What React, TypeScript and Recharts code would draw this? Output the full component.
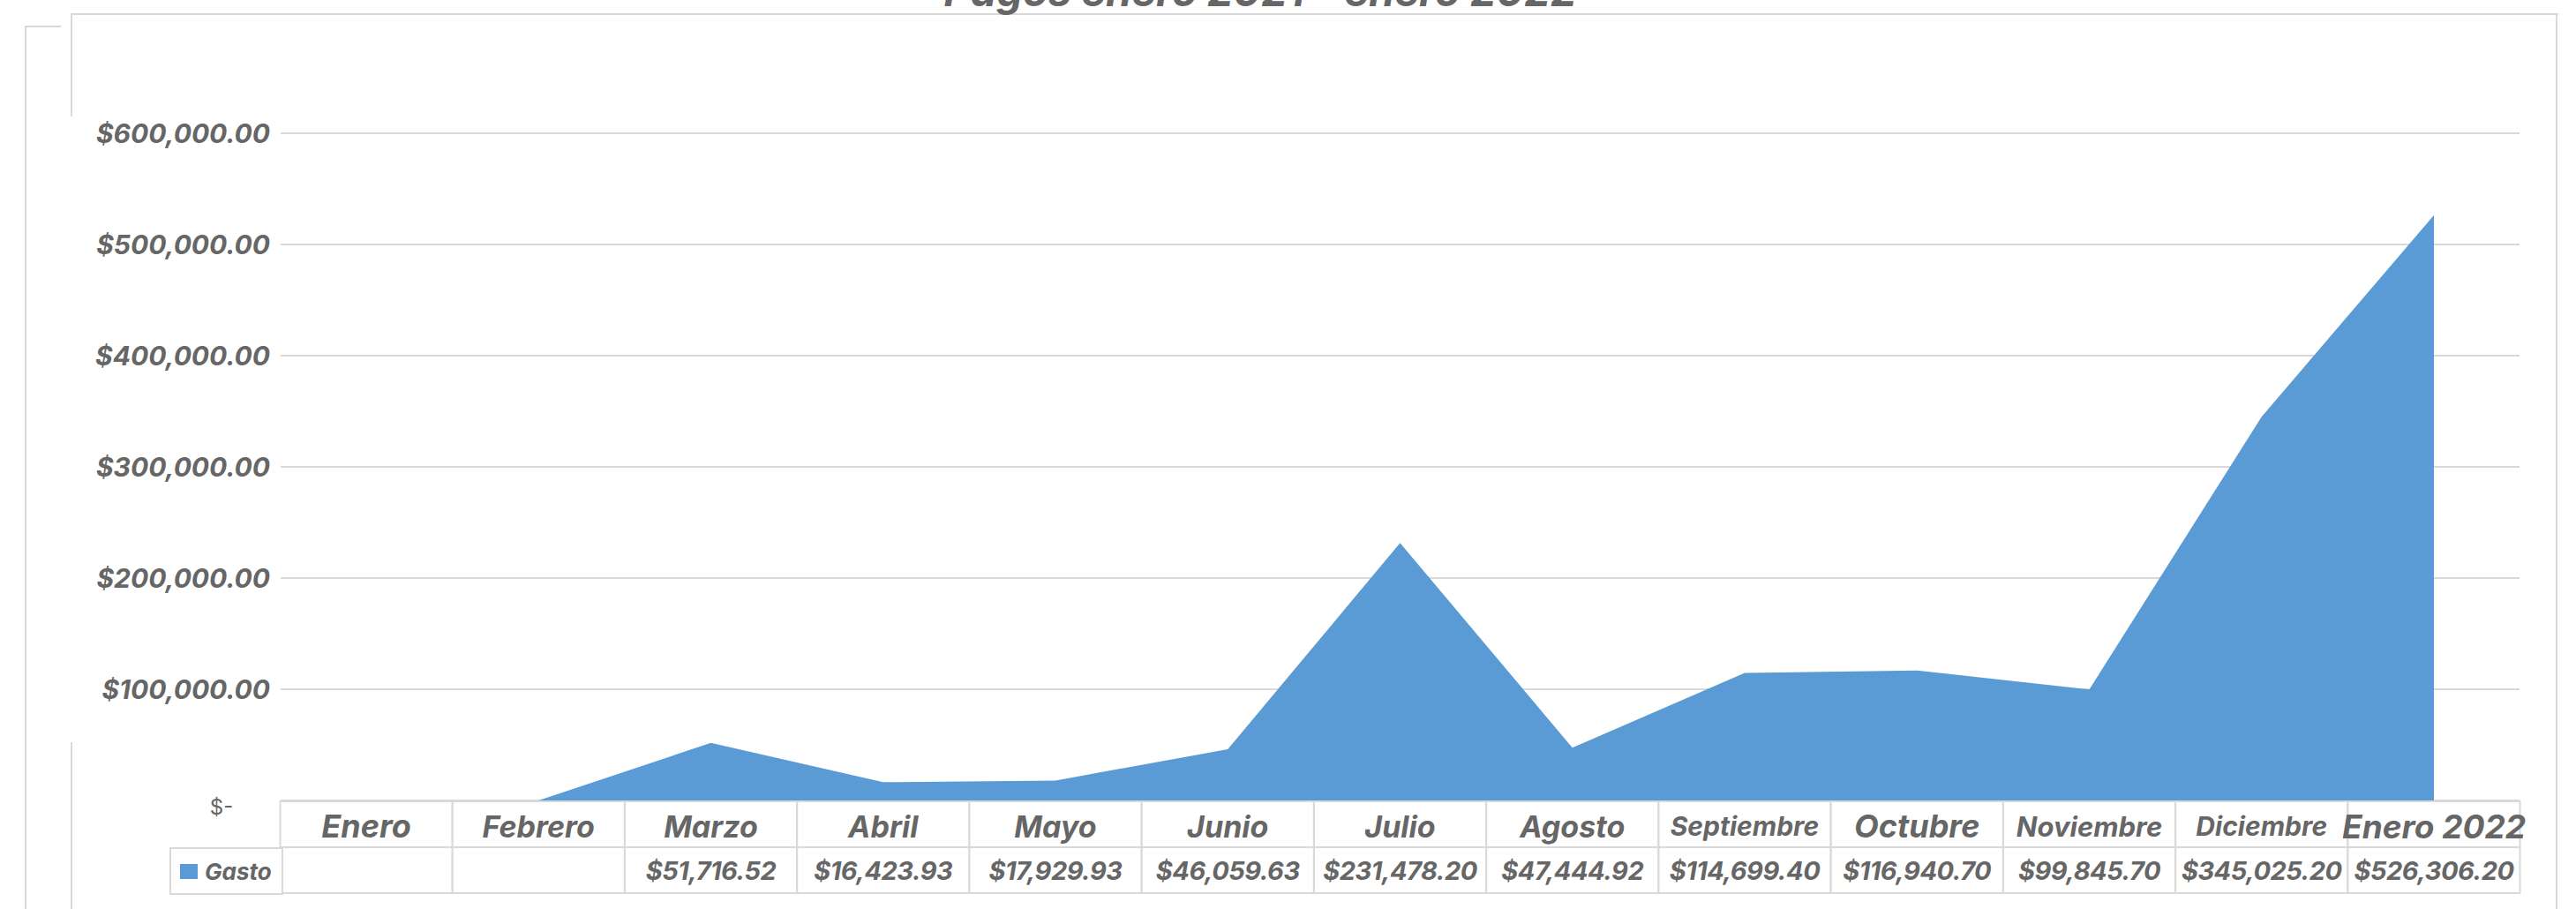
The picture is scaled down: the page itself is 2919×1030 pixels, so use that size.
import { AreaChart, Area, XAxis, YAxis, CartesianGrid } from 'recharts';

const months = [
  'Enero',
  'Febrero',
  'Marzo',
  'Abril',
  'Mayo',
  'Junio',
  'Julio',
  'Agosto',
  'Septiembre',
  'Octubre',
  'Noviembre',
  'Diciembre',
  'Enero 2022',
];

// blank cells in the data table for Enero / Febrero
const gasto: (number | null)[] = [
  null,
  null,
  51716.52,
  16423.93,
  17929.93,
  46059.63,
  231478.2,
  47444.92,
  114699.4,
  116940.7,
  99845.7,
  345025.2,
  526306.2,
];

const yTicks = [0, 100000, 200000, 300000, 400000, 500000, 600000];

const chartData = months.map((m, i) => ({
  month: m,
  gasto: gasto[i],
  plotted: gasto[i] ?? 0,
}));

const GRAY = '#666666';
const LINE = '#d9d9d9';
const BLUE = '#5b9bd5';
const FONT = 'Inter, "Open Sans", sans-serif';
const CELL_W = 195;
const ROW_H = 52;

// header labels are not all the same size in the original
const headerSize: Record<string, number> = {
  Enero: 36,
  Octubre: 36,
  Septiembre: 30,
  Noviembre: 31,
  Diciembre: 30,
  'Enero 2022': 37,
};

const money = (v: number) =>
  '$' + v.toLocaleString('en-US', { minimumFractionDigits: 2, maximumFractionDigits: 2 });

function YTick({ x, y, payload }: any) {
  if (payload.value === 0) {
    return (
      <text x={x - 55} y={y + 7} textAnchor="middle" dominantBaseline="central" fill={GRAY}
        fontFamily={FONT} fontSize={24}>
        $-
      </text>
    );
  }
  return (
    <text x={x} y={y} textAnchor="end" dominantBaseline="central" fill={GRAY}
      fontFamily={FONT} fontSize={30} fontWeight={700} fontStyle="italic">
      {money(payload.value)}
    </text>
  );
}

function TableTick({ x, y, payload }: any) {
  const i = months.indexOf(payload.value);
  const v = gasto[i];
  const top = y + 1;
  return (
    <g>
      <rect x={x - CELL_W / 2} y={top} width={CELL_W} height={ROW_H} fill="#fff" stroke={LINE} strokeWidth={2} />
      <rect x={x - CELL_W / 2} y={top + ROW_H} width={CELL_W} height={ROW_H} fill="#fff" stroke={LINE} strokeWidth={2} />
      <text x={x} y={top + ROW_H / 2 + 2} textAnchor="middle" dominantBaseline="central" fill={GRAY}
        fontFamily={FONT} fontSize={headerSize[payload.value] ?? 34} fontWeight={700} fontStyle="italic">
        {payload.value}
      </text>
      <text x={x} y={top + ROW_H * 1.5} textAnchor="middle" dominantBaseline="central" fill={GRAY}
        fontFamily={FONT} fontSize={29} fontWeight={700} fontStyle="italic" letterSpacing={-0.5}>
        {v == null ? '' : money(v)}
      </text>
    </g>
  );
}

const line = (style: React.CSSProperties) => (
  <div style={{ position: 'absolute', background: LINE, ...style }} />
);

export default function App() {
  return (
    <div style={{ position: 'absolute', left: 0, top: 0, width: 2919, height: 1030, background: '#fff', overflow: 'hidden' }}>
      {/* frame lines of the pasted chart */}
      {line({ left: 80, top: 15, width: 2819, height: 2 })}
      {line({ left: 2896, top: 15, width: 2, height: 1015 })}
      {line({ left: 80, top: 15, width: 2, height: 117 })}
      {line({ left: 80, top: 841, width: 2, height: 189 })}
      {line({ left: 28, top: 29, width: 41, height: 2 })}
      {line({ left: 28, top: 29, width: 2, height: 1001 })}

      <div
        style={{
          position: 'absolute',
          left: 1428,
          top: -39,
          transform: 'translateX(-50%)',
          whiteSpace: 'nowrap',
          fontFamily: FONT,
          fontSize: 47,
          fontWeight: 700,
          fontStyle: 'italic',
          color: GRAY,
          lineHeight: '57px',
        }}
      >
        Pagos enero 2021 - enero 2022
      </div>

      <AreaChart
        width={2919}
        height={1030}
        data={chartData}
        margin={{ top: 151, right: 64, bottom: 18, left: 98 }}
        style={{ position: 'absolute', left: 0, top: 0 }}
      >
        <CartesianGrid vertical={false} stroke={LINE} strokeWidth={2} />
        <YAxis
          width={220}
          domain={[0, 600000]}
          ticks={yTicks}
          interval={0}
          axisLine={false}
          tickLine={false}
          tickSize={0}
          tickMargin={12}
          tick={<YTick />}
        />
        <XAxis
          dataKey="month"
          height={105}
          interval={0}
          padding={{ left: 97, right: 97 }}
          axisLine={false}
          tickLine={false}
          tickSize={0}
          tickMargin={0}
          tick={<TableTick />}
        />
        <Area
          type="linear"
          dataKey="plotted"
          name="Gasto"
          stroke="none"
          fill={BLUE}
          fillOpacity={1}
          isAnimationActive={false}
        />
      </AreaChart>

      {/* legend key cell of the data table */}
      <div
        style={{
          position: 'absolute',
          left: 192,
          top: 960,
          width: 125,
          height: 50,
          border: `2px solid ${LINE}`,
          background: '#fff',
          display: 'flex',
          alignItems: 'center',
          fontFamily: FONT,
          fontSize: 26,
          fontWeight: 700,
          fontStyle: 'italic',
          color: GRAY,
        }}
      >
        <span style={{ display: 'inline-block', width: 20, height: 17, background: BLUE, marginLeft: 10, marginRight: 8, flexShrink: 0 }} />
        Gasto
      </div>
    </div>
  );
}
